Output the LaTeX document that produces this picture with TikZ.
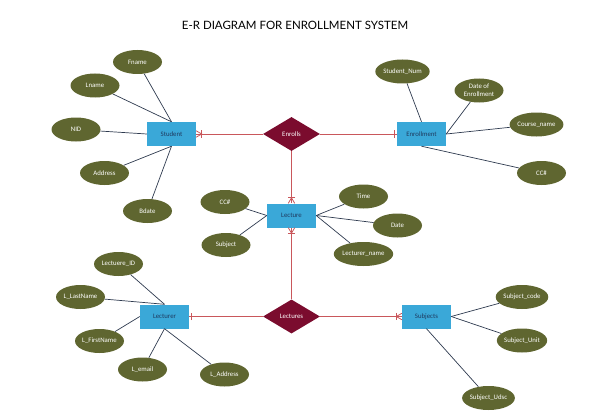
\documentclass[tikz,border=0pt]{standalone}
\usepackage{fontspec}
\setmainfont{Carlito}
\newfontfamily\titlefont{Lato}
\usetikzlibrary{shapes.geometric}
\definecolor{entfill}{HTML}{3AA8D8}
\definecolor{enttext}{HTML}{1F3A5F}
\definecolor{attfill}{HTML}{5F6630}
\definecolor{relfill}{HTML}{7B0C2E}
\definecolor{relline}{HTML}{C9575B}
\definecolor{attline}{HTML}{2E3A4F}
\tikzset{
  entity/.style={rectangle, fill=entfill, text=enttext, minimum width=49pt, minimum height=24pt, inner sep=0pt, font=\fontsize{6.8}{7.8}\selectfont},
  attrib/.style={ellipse, fill=attfill, text=white, minimum width=49pt, minimum height=24pt, inner sep=0pt, align=center, font=\fontsize{6.8}{7.8}\selectfont},
  relship/.style={diamond, fill=relfill, text=white, minimum width=57pt, minimum height=34pt, inner sep=0pt, font=\fontsize{6.8}{7.8}\selectfont},
  attlink/.style={draw=attline, line width=0.7pt},
  rellink/.style={draw=relline, line width=0.8pt},
}
\newcommand{\crowfoot}[2]{%
  \begin{scope}[shift={(#1)}, rotate=#2]
    \draw[rellink] (0pt,-3.2pt) -- (5.5pt,0pt) -- (0pt,3.2pt);
    \draw[rellink] (5.5pt,-3.6pt) -- (5.5pt,3.6pt);
  \end{scope}}
\newcommand{\onebar}[2]{%
  \begin{scope}[shift={(#1)}, rotate=#2]
    \draw[rellink] (2pt,-3.6pt) -- (2pt,3.6pt);
  \end{scope}}
\begin{document}
\begin{tikzpicture}[x=1pt, y=-1pt]
\useasboundingbox (0,0) rectangle (616,420);
\node[font=\titlefont\fontsize{11.5}{13}\selectfont, text=black] (title) at (295,25) {E-R DIAGRAM FOR ENROLLMENT SYSTEM};

% entities
\node[entity] (st) at (171.5,134) {Student};
\node[entity] (enr) at (421.5,134) {Enrollment};
\node[entity] (lec) at (291.5,215.5) {Lecture};
\node[entity] (lr) at (164.5,316.5) {Lecturer};
\node[entity] (sub) at (426.5,316.5) {Subjects};

% relationships
\node[relship] (enrolls) at (291.5,134) {Enrolls};
\node[relship] (lectures) at (291.5,316.5) {Lectures};

% attributes
\node[attrib] (fname) at (137.5,62) {Fname};
\node[attrib] (lname) at (95,85.5) {Lname};
\node[attrib] (nid) at (76,129.5) {NID};
\node[attrib] (addr) at (104.5,173) {Address};
\node[attrib] (bdate) at (147.5,211) {Bdate};

\node[attrib] (cc1) at (225,202) {CC\#};
\node[attrib] (subj) at (226,245) {Subject};
\node[attrib] (time) at (363.5,196.5) {Time};
\node[attrib] (date) at (397.5,225.5) {Date};
\node[attrib] (lecname) at (363.5,254) {Lecturer\_name};

\node[attrib] (snum) at (402.5,71.5) {Student\_Num};
\node[attrib] (doe) at (479,90.5) {Date of\\Enrollment};
\node[attrib] (cname) at (536.5,124.5) {Course\_name};
\node[attrib] (cc2) at (541.5,173) {CC\#};

\node[attrib] (lid) at (118.5,264) {Lectuere\_ID};
\node[attrib] (llast) at (80.5,297) {L\_LastName};
\node[attrib] (lfirst) at (99.5,341) {L\_FirstName};
\node[attrib] (lemail) at (142.5,369.5) {L\_email};
\node[attrib] (laddr) at (224.5,374.5) {L\_Address};

\node[attrib] (scode) at (522,297) {Subject\_code};
\node[attrib] (sunit) at (522,340.5) {Subject\_Unit};
\node[attrib] (sudsc) at (488.5,398) {Subject\_Udsc};

% attribute links
\draw[attlink] (fname) -- (st.north);
\draw[attlink] (lname) -- (st.north);
\draw[attlink] (nid) -- (st.west);
\draw[attlink] (addr) -- (st.south);
\draw[attlink] (bdate) -- (st.south);

\draw[attlink] (snum) -- (enr.north);
\draw[attlink] (doe) -- (enr.east);
\draw[attlink] (cname) -- (enr.east);
\draw[attlink] (cc2) -- (enr.south);

\draw[attlink] (cc1) -- (lec.west);
\draw[attlink] (subj) -- (lec.west);
\draw[attlink] (time) -- (lec.east);
\draw[attlink] (date) -- (lec.east);
\draw[attlink] (lecname) -- (lec.east);

\draw[attlink] (lid) -- (lr.north);
\draw[attlink] (llast) -- (lr.north);
\draw[attlink] (lfirst) -- (lr.west);
\draw[attlink] (lemail) -- (lr.south);
\draw[attlink] (laddr) -- (lr.south);

\draw[attlink] (scode) -- (sub.east);
\draw[attlink] (sunit) -- (sub.east);
\draw[attlink] (sudsc) -- (sub.south);

% relationship links
\draw[rellink] (st.east) -- (enrolls.west);
\draw[rellink] (enrolls.east) -- (enr.west);
\draw[rellink] (enrolls.south) -- (lec.north);
\draw[rellink] (lec.south) -- (lectures.north);
\draw[rellink] (lr.east) -- (lectures.west);
\draw[rellink] (lectures.east) -- (sub.west);

\crowfoot{st.east}{0}
\onebar{enr.west}{180}
\crowfoot{lec.north}{90}
\crowfoot{lec.south}{-90}
\onebar{lr.east}{0}
\crowfoot{sub.west}{180}
\end{tikzpicture}
\end{document}
